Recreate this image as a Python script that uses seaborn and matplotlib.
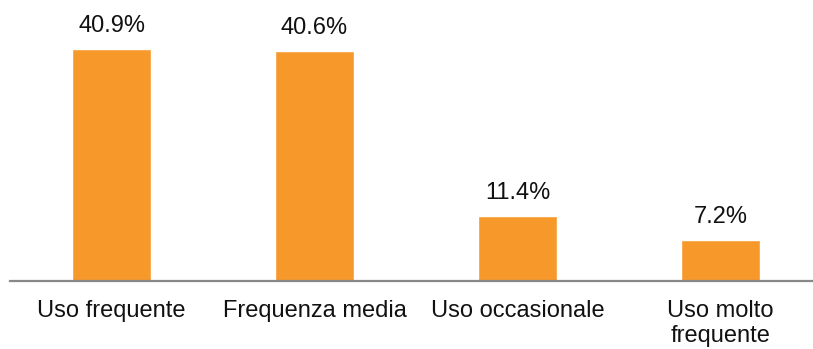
import numpy as np
import pandas as pd
import seaborn as sns
import matplotlib
matplotlib.use("Agg")
import matplotlib.pyplot as plt

categories = ["Uso frequente", "Frequenza media", "Uso occasionale", "Uso molto\nfrequente"]
values = [40.9, 40.6, 11.4, 7.2]
labels = ["40.9%", "40.6%", "11.4%", "7.2%"]

df = pd.DataFrame({"categoria": categories, "valore": values})

sns.set_style("white")
plt.rcParams["font.family"] = ["Liberation Sans", "DejaVu Sans"]

fig = plt.figure(figsize=(8.13, 3.49), dpi=100)
ax = fig.add_axes([10 / 813, 68 / 349, 812 / 813, 281 / 349])

sns.barplot(x="categoria", y="valore", data=df, color="#F7982B", saturation=1,
            width=0.39, ax=ax)
ax.bar_label(ax.containers[0], labels=labels, padding=8.5, fontsize=17, color="#111111")

ax.set_xlim(-0.5, 3.5)
ax.set_ylim(0, 49.5)
ax.set_xlabel("")
ax.set_ylabel("")
ax.set_yticks([])
ax.tick_params(axis="x", length=0, pad=13.5, labelsize=17, labelcolor="#111111")
for lab in ax.get_xticklabels():
    lab.set_linespacing(1.2)
for s in ["top", "right", "left"]:
    ax.spines[s].set_visible(False)
ax.spines["bottom"].set_color("#888888")
ax.spines["bottom"].set_linewidth(1.6)

fig.savefig("out.png", dpi=100)
